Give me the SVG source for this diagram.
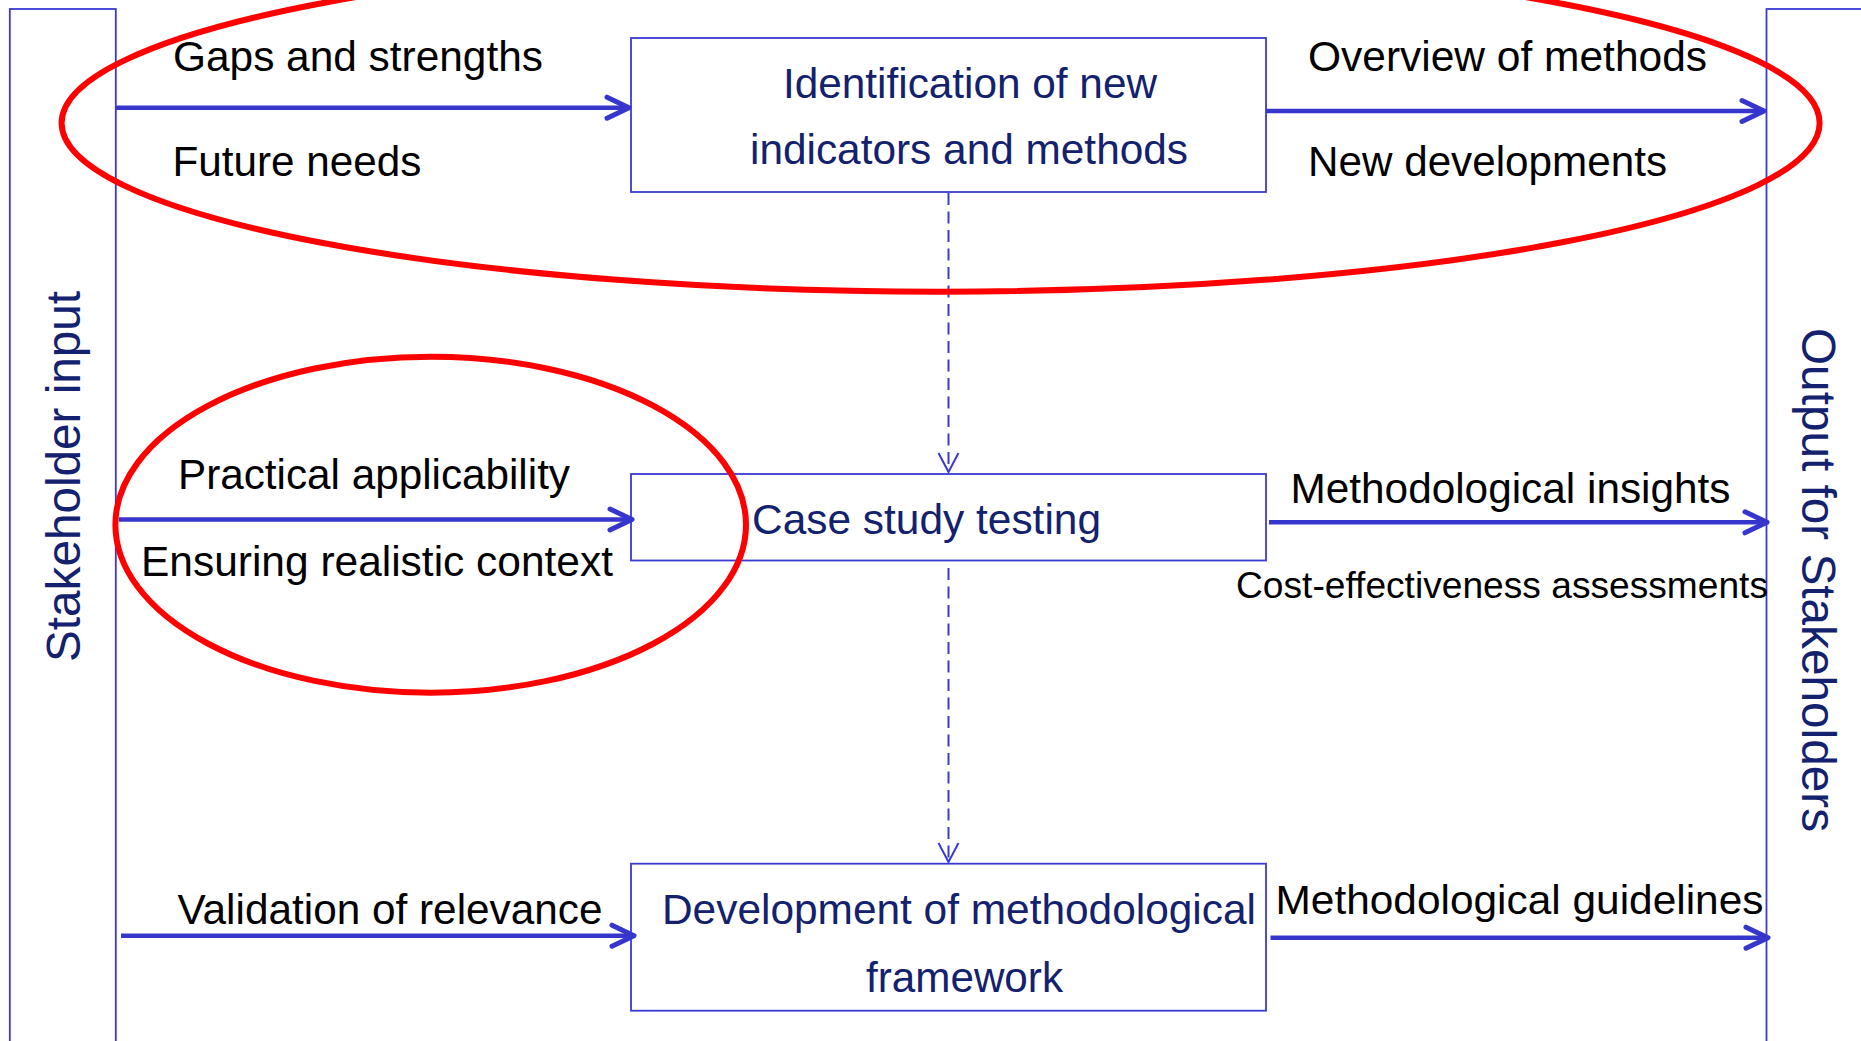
<svg xmlns="http://www.w3.org/2000/svg" width="1861" height="1041" viewBox="0 0 1861 1041">
<style>
.bar{fill:none;stroke:#3a3ad2;stroke-width:1.8}
.box{fill:#ffffff;stroke:#3a3ad2;stroke-width:1.8}
.flow{fill:none;stroke:#3636cc;stroke-width:4.5}
.dash{fill:none;stroke:#3a3ad2;stroke-width:2;stroke-dasharray:12 6.5}
.lbl{font-family:"Liberation Sans",Arial,sans-serif;font-size:43px;fill:#000000}
.ttl{font-family:"Liberation Sans",Arial,sans-serif;font-size:43px;fill:#13216e}
.side{font-family:"Liberation Sans",Arial,sans-serif;font-size:48px;fill:#13216e}
.ring{fill:none;stroke:#ff0000;stroke-width:6}
</style>
<defs>
<marker id="ah" markerUnits="userSpaceOnUse" viewBox="-27 -15 31 30" refX="0" refY="0" markerWidth="31" markerHeight="30" orient="auto">
<path d="M-22,-10.5 L0,0 L-22,10.5" fill="none" stroke="#3636cc" stroke-width="5" stroke-linecap="round" stroke-linejoin="round"/>
</marker>
<marker id="dh" markerUnits="userSpaceOnUse" viewBox="-22 -12 24 24" refX="0" refY="0" markerWidth="24" markerHeight="24" orient="auto">
<path d="M-19,-10 L0,0 L-19,10" fill="none" stroke="#3a3ad2" stroke-width="2"/>
</marker>
</defs>
<rect width="1861" height="1041" fill="#ffffff"/>

<g id="stakeholder-input">
<rect class="bar" x="9.8" y="9" width="106" height="1045"/>
<text class="side" transform="translate(79.6,662) rotate(-90)" textLength="371" lengthAdjust="spacingAndGlyphs">Stakeholder input</text>
</g>

<g id="output-stakeholders">
<rect class="bar" x="1766.5" y="9" width="110" height="1045"/>
<text class="side" transform="translate(1802,328) rotate(90)" textLength="504" lengthAdjust="spacingAndGlyphs">Output for Stakeholders</text>
</g>

<g id="identification">
<rect class="box" x="631" y="38" width="635" height="154"/>
<text class="ttl" x="783" y="97.5" textLength="374" lengthAdjust="spacingAndGlyphs">Identification of new</text>
<text class="ttl" x="750" y="164" textLength="438" lengthAdjust="spacingAndGlyphs">indicators and methods</text>
</g>

<g id="case-study">
<rect class="box" x="631" y="474" width="635" height="86.5"/>
<text class="ttl" x="752" y="533.5" textLength="349" lengthAdjust="spacingAndGlyphs">Case study testing</text>
</g>

<g id="development">
<rect class="box" x="631" y="863.7" width="635" height="147"/>
<text class="ttl" x="662" y="923.5" textLength="594" lengthAdjust="spacingAndGlyphs">Development of methodological</text>
<text class="ttl" x="866" y="991.5" textLength="197" lengthAdjust="spacingAndGlyphs">framework</text>
</g>

<g id="connectors">
<line class="flow" x1="116" y1="107.7" x2="629" y2="107.7" marker-end="url(#ah)"/>
<line class="flow" x1="1266" y1="111" x2="1764" y2="111" marker-end="url(#ah)"/>
<line class="flow" x1="119" y1="519.5" x2="632" y2="519.5" marker-end="url(#ah)"/>
<line class="flow" x1="1269" y1="522.3" x2="1767" y2="522.3" marker-end="url(#ah)"/>
<line class="flow" x1="121" y1="935.7" x2="634" y2="935.7" marker-end="url(#ah)"/>
<line class="flow" x1="1270.5" y1="937.7" x2="1768" y2="937.7" marker-end="url(#ah)"/>
<line class="dash" x1="948.5" y1="193" x2="948.5" y2="472" marker-end="url(#dh)"/>
<line class="dash" x1="948.5" y1="568" x2="948.5" y2="862" marker-end="url(#dh)"/>

<text class="lbl" x="173" y="71" textLength="370" lengthAdjust="spacingAndGlyphs">Gaps and strengths</text>
<text class="lbl" x="172.5" y="176" textLength="249" lengthAdjust="spacingAndGlyphs">Future needs</text>
<text class="lbl" x="1308" y="71" textLength="399" lengthAdjust="spacingAndGlyphs">Overview of methods</text>
<text class="lbl" x="1308" y="176" textLength="359" lengthAdjust="spacingAndGlyphs">New developments</text>
<text class="lbl" x="178" y="489" textLength="392" lengthAdjust="spacingAndGlyphs">Practical applicability</text>
<text class="lbl" x="141" y="576" textLength="472" lengthAdjust="spacingAndGlyphs">Ensuring realistic context</text>
<text class="lbl" x="1290.5" y="502.5" textLength="440" lengthAdjust="spacingAndGlyphs">Methodological insights</text>
<text class="lbl" x="1236" y="597.5" style="font-size:37.5px" textLength="532" lengthAdjust="spacingAndGlyphs">Cost-effectiveness assessments</text>
<text class="lbl" x="177.5" y="924" textLength="425" lengthAdjust="spacingAndGlyphs">Validation of relevance</text>
<text class="lbl" x="1275.5" y="914" style="font-size:41px" textLength="488" lengthAdjust="spacingAndGlyphs">Methodological guidelines</text>
</g>

<g id="highlights">
<ellipse class="ring" cx="940.6" cy="123" rx="879" ry="168.7"/>
<ellipse class="ring" cx="430.7" cy="524.7" rx="315.3" ry="168"/>
</g>
</svg>
